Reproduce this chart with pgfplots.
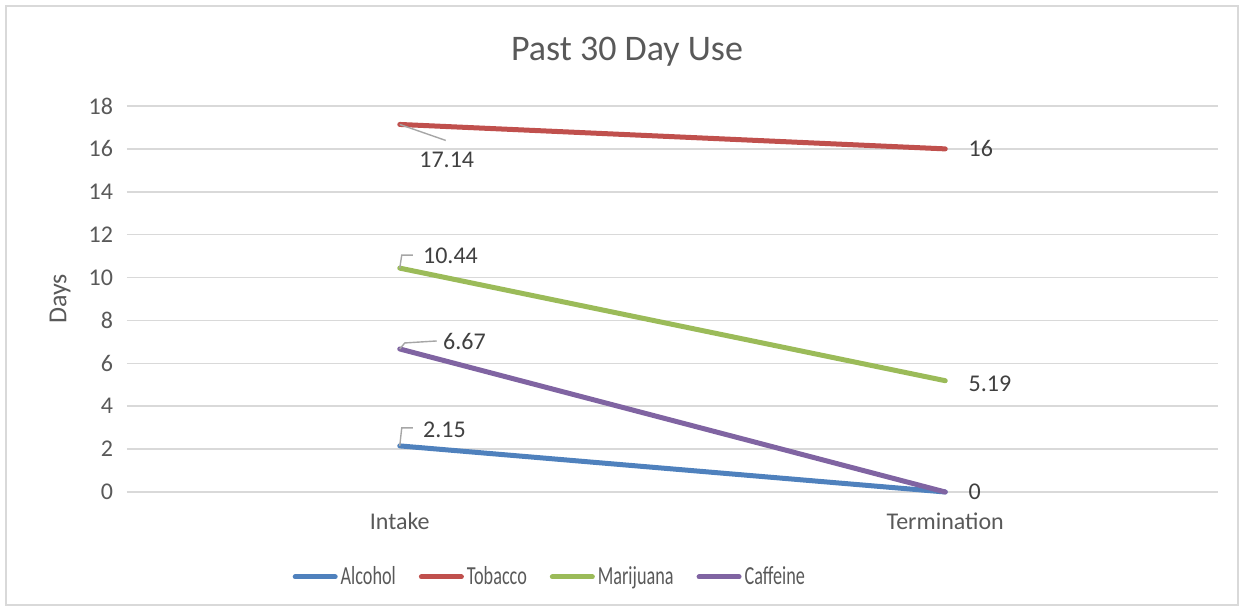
\documentclass[border=0pt]{standalone}
\usepackage{pgfplots}
\pgfplotsset{compat=1.18}
\usepackage{graphicx}
\usepackage{fontspec}
\setmainfont{Carlito}
\definecolor{cAlc}{HTML}{4F81BD}
\definecolor{cTob}{HTML}{C0504D}
\definecolor{cMar}{HTML}{9BBB59}
\definecolor{cCaf}{HTML}{8064A2}
\definecolor{gridc}{HTML}{D9D9D9}
\definecolor{txt}{HTML}{595959}
\definecolor{lbl}{HTML}{404040}
\definecolor{lead}{HTML}{A6A6A6}
\begin{document}
\begin{tikzpicture}
\path[use as bounding box] (0,0) rectangle (622pt,305.5pt);
\draw[gridc, line width=0.75pt] (3pt,3pt) rectangle (619pt,302.5pt);
\node[txt, font=\fontsize{18}{20}\selectfont] at (313.5pt,279.5pt) {Past 30 Day Use};
\begin{axis}[
  at={(63.5pt,59.5pt)}, anchor=south west,
  scale only axis, width=545.5pt, height=193pt,
  xmin=-0.5, xmax=1.5, ymin=0, ymax=18,
  xtick={0,1}, xticklabels={Intake,Termination},
  ytick={0,2,...,18},
  ymajorgrids, grid style={gridc, line width=0.75pt},
  axis line style={draw=none}, major tick length=0pt,
  tick label style={font=\fontsize{12}{14}\selectfont, text=txt},
  /pgf/number format/assume math mode=true,
  yticklabel style={xshift=-3.5pt},
  xticklabel style={yshift=-7pt},
  ylabel={Days},
  ylabel style={at={(axis description cs:-0.0614,0.5)}, anchor=center, font=\fontsize{13}{15}\selectfont, text=txt},
  clip=false,
  legend columns=4,
  legend style={at={(axis description cs:0.388,-0.220)}, anchor=center, draw=none, fill=none,
    font=\fontsize{13}{15}\selectfont, text=txt,
    nodes={inner xsep=1.5pt},
    /tikz/every even column/.append style={column sep=10pt}},
  legend image code/.code={\draw[#1, line width=2.5pt, line cap=round] (0pt,0pt) -- (20pt,0pt);},
]
\addplot[cAlc, line width=2.5pt, line cap=round] coordinates {(0,2.15) (1,0)};
\addlegendentry{\scalebox{0.7}[1]{Alcohol}}
\addplot[cTob, line width=2.5pt, line cap=round] coordinates {(0,17.14) (1,16)};
\addlegendentry{\scalebox{0.7}[1]{Tobacco}}
\addplot[cMar, line width=2.5pt, line cap=round] coordinates {(0,10.44) (1,5.19)};
\addlegendentry{\scalebox{0.7}[1]{Marijuana}}
\addplot[cCaf, line width=2.5pt, line cap=round] coordinates {(0,6.67) (1,0)};
\addlegendentry{\scalebox{0.7}[1]{Caffeine}}

\tikzset{dl/.style={lbl, font=\fontsize{12}{14}\selectfont, inner sep=0pt}}
\draw[lead, line width=0.7pt] (axis cs:0,17.14) -- ++(23pt,-8pt);
\node[dl, xshift=23.5pt, yshift=-17.5pt] at (axis cs:0,17.14) {17.14};
\draw[lead, line width=0.7pt] (axis cs:0,10.44) -- ++(1pt,6.5pt) -- ++(5.5pt,0pt);
\node[dl, anchor=west, xshift=11.5pt, yshift=6pt] at (axis cs:0,10.44) {10.44};
\draw[lead, line width=0.7pt] (axis cs:0,6.67) -- ++(2.5pt,3pt) -- ++(16pt,1pt);
\node[dl, anchor=west, xshift=21.5pt, yshift=3.5pt] at (axis cs:0,6.67) {6.67};
\draw[lead, line width=0.7pt] (axis cs:0,2.15) -- ++(1pt,9pt) -- ++(5.5pt,0pt);
\node[dl, anchor=west, xshift=11.5pt, yshift=8pt] at (axis cs:0,2.15) {2.15};
\node[dl, anchor=west, xshift=11.5pt] at (axis cs:1,16) {16};
\node[dl, anchor=west, xshift=11.5pt, yshift=-1.5pt] at (axis cs:1,5.19) {5.19};
\node[dl, anchor=west, xshift=11.5pt] at (axis cs:1,0) {0};
\end{axis}
\end{tikzpicture}
\end{document}
